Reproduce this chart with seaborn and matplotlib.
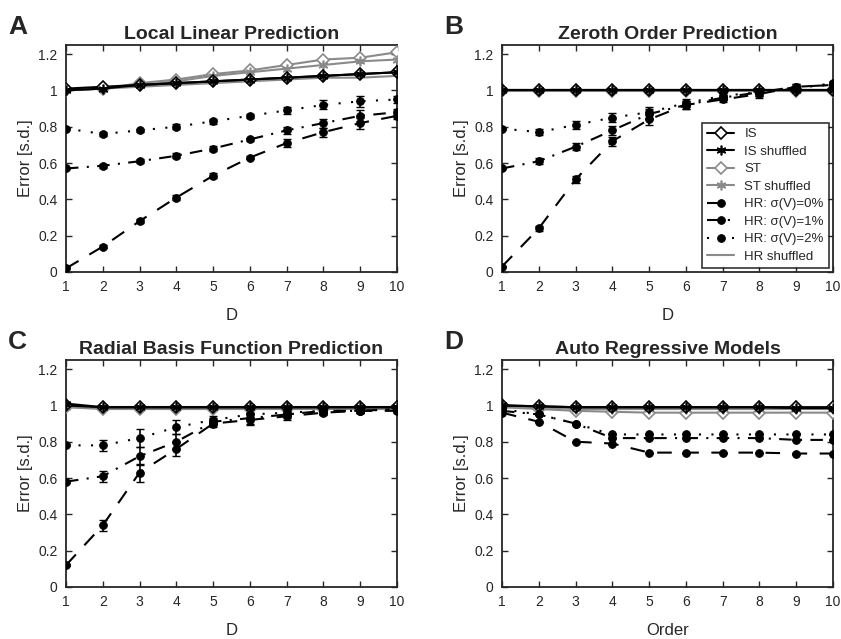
import matplotlib
matplotlib.use("Agg")
import matplotlib.pyplot as plt
import matplotlib.ticker as mticker
import seaborn as sns
import pandas as pd

x = list(range(1, 11))

# panel A - local linear prediction
a_is = [1.01, 1.02, 1.03, 1.04, 1.05, 1.06, 1.07, 1.08, 1.09, 1.10]
a_is_shuf = [1.00, 1.01, 1.03, 1.04, 1.05, 1.06, 1.07, 1.08, 1.09, 1.10]
a_st = [1.00, 1.01, 1.04, 1.06, 1.09, 1.11, 1.14, 1.17, 1.18, 1.21]
a_st_shuf = [1.00, 1.01, 1.03, 1.05, 1.08, 1.10, 1.12, 1.14, 1.16, 1.17]
a_hr_shuf = [1.00, 1.01, 1.02, 1.03, 1.04, 1.05, 1.06, 1.07, 1.07, 1.08]
a_hr0 = [0.02, 0.14, 0.28, 0.41, 0.53, 0.63, 0.71, 0.77, 0.82, 0.86]
a_hr1 = [0.57, 0.585, 0.61, 0.64, 0.68, 0.73, 0.78, 0.82, 0.86, 0.88]
a_hr2 = [0.79, 0.76, 0.78, 0.80, 0.83, 0.86, 0.89, 0.92, 0.94, 0.95]
a_err = [0.005, 0.01, 0.01, 0.015, 0.015, 0.01, 0.02, 0.025, 0.03, 0.02]

# panel B - zeroth order prediction
b_is = [1.0] * 10
b_is_shuf = [1.0] * 10
b_st = [0.995] * 10
b_st_shuf = [1.0] * 10
b_hr_shuf = [1.0] * 10
b_hr0 = [0.03, 0.24, 0.51, 0.72, 0.84, 0.92, 0.95, 0.98, 1.02, 1.03]
b_hr1 = [0.57, 0.61, 0.69, 0.78, 0.87, 0.92, 0.96, 0.99, 1.02, 1.03]
b_hr2 = [0.79, 0.77, 0.81, 0.85, 0.88, 0.93, 0.97, 0.99, 1.01, 1.04]
b_err = [0.005, 0.015, 0.02, 0.025, 0.03, 0.02, 0.015, 0.02, 0.015, 0.01]

# panel C - radial basis function prediction
c_is = [1.0, 0.99, 0.99, 0.99, 0.99, 0.99, 0.99, 0.99, 0.99, 0.99]
c_is_shuf = [1.01, 0.99, 0.99, 0.99, 0.99, 0.99, 0.99, 0.99, 0.99, 0.99]
c_st = [0.99, 0.98, 0.98, 0.98, 0.98, 0.98, 0.98, 0.98, 0.98, 0.98]
c_st_shuf = [0.99] * 10
c_hr_shuf = [0.99] * 10
c_hr0 = [0.12, 0.34, 0.63, 0.76, 0.90, 0.92, 0.94, 0.96, 0.97, 0.97]
c_hr1 = [0.58, 0.61, 0.72, 0.80, 0.91, 0.93, 0.95, 0.97, 0.97, 0.98]
c_hr2 = [0.78, 0.78, 0.82, 0.88, 0.92, 0.95, 0.96, 0.97, 0.97, 0.98]
c_err = [0.005, 0.03, 0.05, 0.04, 0.02, 0.03, 0.02, 0.015, 0.01, 0.01]

# panel D - auto regressive models
d_is = [1.0, 0.995, 0.99, 0.99, 0.99, 0.99, 0.99, 0.99, 0.99, 0.99]
d_is_shuf = [1.0, 0.995, 0.99, 0.99, 0.99, 0.99, 0.99, 0.99, 0.985, 0.985]
d_st = [0.99, 0.98, 0.97, 0.965, 0.96, 0.96, 0.96, 0.96, 0.96, 0.96]
d_st_shuf = [1.0, 0.99, 0.98, 0.98, 0.98, 0.98, 0.98, 0.98, 0.98, 0.98]
d_hr_shuf = [0.99] * 10
d_hr0 = [0.96, 0.91, 0.80, 0.79, 0.74, 0.74, 0.74, 0.74, 0.735, 0.735]
d_hr1 = [0.97, 0.95, 0.90, 0.82, 0.82, 0.82, 0.82, 0.82, 0.81, 0.81]
d_hr2 = [0.98, 0.95, 0.90, 0.84, 0.84, 0.84, 0.84, 0.84, 0.84, 0.84]
d_err = [0.0] * 10

panels = [
    ("A", "Local Linear Prediction", "D",
     a_is, a_is_shuf, a_st, a_st_shuf, a_hr_shuf, a_hr0, a_hr1, a_hr2, a_err),
    ("B", "Zeroth Order Prediction", "D",
     b_is, b_is_shuf, b_st, b_st_shuf, b_hr_shuf, b_hr0, b_hr1, b_hr2, b_err),
    ("C", "Radial Basis Function Prediction", "D",
     c_is, c_is_shuf, c_st, c_st_shuf, c_hr_shuf, c_hr0, c_hr1, c_hr2, c_err),
    ("D", "Auto Regressive Models", "Order",
     d_is, d_is_shuf, d_st, d_st_shuf, d_hr_shuf, d_hr0, d_hr1, d_hr2, d_err),
]

sns.set_style("ticks")
plt.rcParams["font.family"] = ["Liberation Sans", "DejaVu Sans"]
plt.rcParams["xtick.direction"] = "in"
plt.rcParams["ytick.direction"] = "in"

gray = "#8a8a8a"
fig = plt.figure(figsize=(8.41, 6.39), dpi=100)
W, H = 841, 639
boxes = [(66, 45), (502, 45), (66, 360), (502, 360)]
aw, ah = 331, 227

for (letter, title, xlab, s_is, s_iss, s_st, s_sts, s_hrs, h0, h1, h2, err), (bx, by) in zip(panels, boxes):
    ax = fig.add_axes([bx / W, 1 - (by + ah) / H, aw / W, ah / H])

    sns.lineplot(x=x, y=s_hrs, ax=ax, color=gray, lw=1.5, label="HR shuffled", zorder=2)
    sns.lineplot(x=x, y=s_is, ax=ax, color="black", lw=1.5, marker="D", markersize=6,
                 markerfacecolor="white", markeredgecolor="black", markeredgewidth=1.2,
                 label="IS", zorder=4)
    sns.lineplot(x=x, y=s_iss, ax=ax, color="black", lw=1.5, marker=(6, 2, 0), markersize=7,
                 markeredgecolor="black", markeredgewidth=1.2, label="IS shuffled", zorder=4)
    sns.lineplot(x=x, y=s_st, ax=ax, color=gray, lw=1.5, marker="D", markersize=6,
                 markerfacecolor="white", markeredgecolor=gray, markeredgewidth=1.2,
                 label="ST", zorder=3)
    sns.lineplot(x=x, y=s_sts, ax=ax, color=gray, lw=1.5, marker=(6, 2, 0), markersize=7,
                 markeredgecolor=gray, markeredgewidth=1.2, label="ST shuffled", zorder=3)

    styles = [(h0, (0, (7, 6)), "HR: σ(V)=0%"),
              (h1, (0, (6, 4, 1, 4)), "HR: σ(V)=1%"),
              (h2, (0, (1, 5)), "HR: σ(V)=2%")]
    for vals, ls, lab in styles:
        sns.lineplot(x=x, y=vals, ax=ax, color="black", lw=1.5, linestyle=ls, marker="o",
                     markersize=5.5, markeredgecolor="black", label=lab, zorder=5)
        ax.errorbar(x, vals, yerr=err, fmt="none", ecolor="black", elinewidth=1.2,
                    capsize=3, zorder=5)

    ax.set_xlim(1, 10)
    ax.set_ylim(0, 1.25)
    ax.set_xticks(x)
    ax.set_yticks([0, 0.2, 0.4, 0.6, 0.8, 1.0, 1.2])
    ax.yaxis.set_major_formatter(mticker.FormatStrFormatter("%g"))
    ax.tick_params(top=True, right=True, labelsize=10, length=4, width=1, pad=6)
    for sp in ax.spines.values():
        sp.set_linewidth(1.3)
    ax.set_title(title, fontsize=14, fontweight="bold", pad=4)
    ax.set_xlabel(xlab, fontsize=12, labelpad=10)
    ax.set_ylabel("Error [s.d.]", fontsize=12, labelpad=4)
    fig.text((bx - 58) / W, 1 - (by - 18) / H, letter, fontsize=19, fontweight="bold",
             va="center", ha="left")

    handles, labels = ax.get_legend_handles_labels()
    if letter == "B":
        order = ["IS", "IS shuffled", "ST", "ST shuffled",
                 "HR: σ(V)=0%", "HR: σ(V)=1%", "HR: σ(V)=2%", "HR shuffled"]
        hmap = dict(zip(labels, handles))
        leg = ax.legend([hmap[k] for k in order], order, loc="lower right", fontsize=9.5,
                        frameon=True, fancybox=False, edgecolor="black", handlelength=2.0,
                        labelspacing=0.4, borderaxespad=0.3)
        leg.get_frame().set_linewidth(1.2)
    else:
        ax.get_legend().remove()

fig.savefig("out.png", dpi=100)
